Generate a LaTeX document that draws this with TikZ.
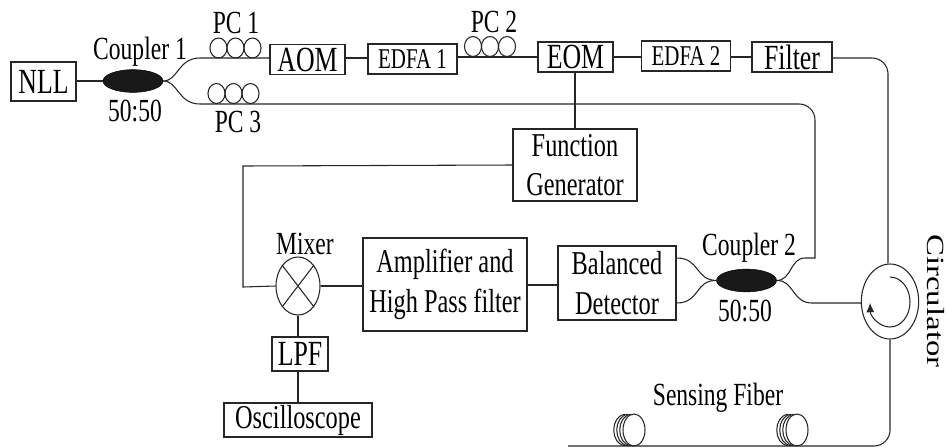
\documentclass[tikz,border=0pt]{standalone}
\usepackage{fontspec}
\setmainfont[FakeStretch=0.73]{Liberation Serif}
\newfontfamily\circfont[FakeStretch=1.33]{Liberation Serif}
\usetikzlibrary{shapes.geometric,arrows.meta}
\tikzset{
  lw/.style={line width=0.8pt,draw=black!85},
  boxed/.style={lw,rectangle,inner sep=0pt,align=center,font=\fontsize{25}{28.5}\selectfont},
  bigbox/.style={boxed,font=\fontsize{26.5}{30}\selectfont},
  smallbox/.style={boxed,font=\fontsize{21.5}{25}\selectfont},
  lab/.style={inner sep=0pt,font=\fontsize{24.2}{28}\selectfont},
  coupler/.style={ellipse,fill=black!90,draw=black,minimum width=45pt,minimum height=17pt,inner sep=0pt},
  loopc/.style={ellipse,lw,minimum width=12.8pt,minimum height=15pt,inner sep=0pt},
  fib/.style={lw,rounded corners=12pt},
  spool/.style={lw}
}
\begin{document}
\begin{tikzpicture}[x=0.75pt,y=-0.75pt]
\useasboundingbox (0,0) rectangle (948,447);
% boxes
\node[bigbox,minimum width=48.75pt,minimum height=29.25pt] (nll) at (43.5,81.5) {NLL};
\node[bigbox,minimum width=56.25pt,minimum height=22.5pt] (aom) at (307.5,59.5) {AOM};
\node[smallbox,minimum width=66.75pt,minimum height=22.5pt] (edfaone) at (412.5,59) {EDFA 1};
\node[bigbox,minimum width=56.25pt,minimum height=22.5pt] (eom) at (575.5,57) {EOM};
\node[smallbox,minimum width=66.75pt,minimum height=22.5pt] (edfatwo) at (686,56) {EDFA 2};
\node[bigbox,minimum width=60pt,minimum height=22.5pt] (filter) at (792,57) {Filter};
\node[boxed,minimum width=93pt,minimum height=54pt] (fg) at (575,165) {Function\\[1pt]Generator};
\node[boxed,minimum width=123pt,minimum height=69.75pt] (amp) at (445,284.5) {Amplifier and\\[1pt]High Pass filter};
\node[boxed,minimum width=88.5pt,minimum height=55.5pt] (bd) at (617,283) {Balanced\\[1pt]Detector};
\node[bigbox,minimum width=42pt,minimum height=25.5pt] (lpf) at (300,354) {LPF};
\node[boxed,minimum width=111pt,minimum height=25.5pt] (osc) at (298,420) {Oscilloscope};
% couplers
\node[coupler] (cone) at (133,81) {};
\node[coupler] (ctwo) at (746.5,280.5) {};
% mixer
\node[ellipse,lw,minimum width=33pt,minimum height=43.5pt,inner sep=0pt] (mix) at (298,286) {};
\draw[lw] (mix.north west) -- (mix.south east);
\draw[lw] (mix.north east) -- (mix.south west);
% circulator
\node[ellipse,lw,minimum width=43pt,minimum height=56.25pt,inner sep=0pt] (circ) at (890,301.5) {};
\draw[lw,-{Latex[length=7pt,width=6pt]}] (890,277) arc[start angle=-90,end angle=178,x radius=20,y radius=25];
% polarisation controllers
\node[loopc] (pa) at (218.5,48) {};
\node[loopc] (pb) at (235.5,48) {};
\node[loopc] (pc) at (252.5,48) {};
\node[loopc] (pd) at (473,46.5) {};
\node[loopc] (pe) at (490,46.5) {};
\node[loopc] (pf) at (507,46.5) {};
\node[loopc] (pg) at (216.5,93.5) {};
\node[loopc] (ph) at (233.5,93.5) {};
\node[loopc] (pi) at (250.5,93.5) {};
% labels
\node[lab] (t1) at (140,52) {Coupler 1};
\node[lab] (t2) at (135,111) {50:50};
\node[lab] (t3) at (236,23) {PC 1};
\node[lab] (t4) at (238,122) {PC 3};
\node[lab] (t5) at (494,22) {PC 2};
\node[lab] (t6) at (305,244) {Mixer};
\node[lab] (t7) at (749,248) {Coupler 2};
\node[lab] (t8) at (745,311) {50:50};
\node[lab] (t9) at (718,398) {Sensing Fiber};
\node[inner sep=0pt,rotate=-90,font=\fontsize{18.5}{22}\circfont] (t10) at (936,301) {Circulator};
% fibres
\coordinate (ua) at (200,58);
\coordinate (la) at (200,104);
\coordinate (ca) at (710,258);
\coordinate (cb) at (710,303);
\coordinate (cc) at (805,258);
\coordinate (cd) at (812,303);
\coordinate (ce) at (815,104);
\coordinate (cf) at (815,258);
\coordinate (cg) at (888,58);
\coordinate (ch) at (890,446);
\coordinate (ci) at (568,446);
\coordinate (cj) at (243,166);
\coordinate (ck) at (243,287);
\draw[lw] (nll.east |- cone) -- (cone.west);
\draw[lw] (cone.east) .. controls (178,81) and (178,58) .. (ua) -- (ua -| aom.west);
\draw[lw] (cone.east) .. controls (178,81) and (178,104) .. (la);
\draw[lw] [rounded corners=12pt] (la) -- (ce) [sharp corners] -- (cf) -- (cc);
\draw[lw] (cc) .. controls (790,258) and (792,280) .. (ctwo.east);
\draw[lw] (ctwo.east) .. controls (794,280) and (792,303) .. (cd) -- (cd -| circ.west);
\draw[lw] (aom.east |- 0,58) -- (edfaone.west |- 0,58);
\draw[lw] (edfaone.east |- 0,57) -- (eom.west |- 0,57);
\draw[lw] (eom.east |- 0,57) -- (edfatwo.west |- 0,57);
\draw[lw] (edfatwo.east |- 0,57) -- (filter.west |- 0,57);
\draw[fib] (filter.east |- 0,58) -- (cg) -- (circ.north -| cg);
\draw[lw] (eom.south -| fg.north) -- (fg.north);
\draw[lw] (fg.west) -- (cj) -- (ck) -- (mix.west);
\draw[lw] (mix.east) -- (amp.west |- mix.east);
\draw[lw] (amp.east |- 0,285) -- (bd.west |- 0,285);
\draw[lw] (bd.east |- ca) .. controls (700,258) and (695,280) .. (ctwo.west);
\draw[lw] (bd.east |- cb) .. controls (700,303) and (695,280) .. (ctwo.west);
\draw[lw] (mix.south) -- (lpf.north -| mix.south);
\draw[lw] (lpf.south -| mix.south) -- (osc.north -| mix.south);
\draw[fib] (circ.south) -- (ch) -- (ci);
% spools
\foreach \cx in {634,797}{
  \draw[spool] (\cx,430) ellipse[x radius=11,y radius=16];
  \foreach \d in {3,6,9}{
    \draw[spool] ({\cx-\d},414.3) .. controls ({\cx-\d-15},416) and ({\cx-\d-15},444) .. ({\cx-\d},445.7);
  }
}
\end{tikzpicture}
\end{document}
